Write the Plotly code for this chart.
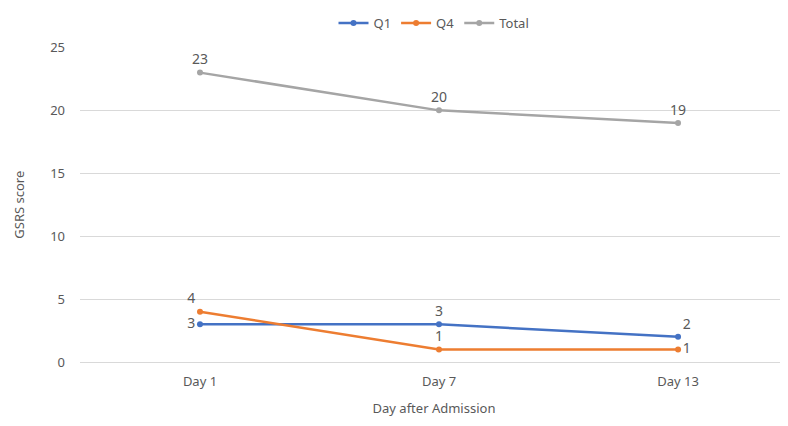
import plotly.graph_objects as go

days = ["Day 1", "Day 7", "Day 13"]
q1 = [3, 3, 2]
q4 = [4, 1, 1]
total = [23, 20, 19]

fnt = "Noto Sans, Open Sans, sans-serif"
txtc = "#595959"

fig = go.Figure()
fig.add_trace(go.Scatter(x=days, y=q1, name="Q1", mode="lines+markers+text",
                         line=dict(color="#4472C4", width=2.5), marker=dict(size=6),
                         text=[str(v) for v in q1],
                         textposition=["middle left", "top center", "top right"],
                         textfont=dict(size=14, color=txtc)))
fig.add_trace(go.Scatter(x=days, y=q4, name="Q4", mode="lines+markers+text",
                         line=dict(color="#ED7D31", width=2.5), marker=dict(size=6),
                         text=[str(v) for v in q4],
                         textposition=["top left", "top center", "middle right"],
                         textfont=dict(size=14, color=txtc)))
fig.add_trace(go.Scatter(x=days, y=total, name="Total", mode="lines+markers+text",
                         line=dict(color="#A5A5A5", width=2.5), marker=dict(size=6),
                         text=[str(v) for v in total],
                         textposition=["top center", "top center", "top center"],
                         textfont=dict(size=14, color=txtc)))

fig.update_layout(
    width=780, height=418,
    margin=dict(l=72, r=0, t=35, b=64),
    paper_bgcolor="white", plot_bgcolor="white",
    font=dict(family=fnt, size=13, color=txtc),
    legend=dict(orientation="h", x=0.5, xanchor="center", y=1.0, yanchor="top",
                yref="container", font=dict(size=13, color=txtc)),
    showlegend=True,
)
fig.update_xaxes(type="category", range=[-0.502, 2.46], showgrid=False,
                 showline=False, ticks="", ticklabelstandoff=10,
                 tickfont=dict(size=13, color=txtc),
                 title=dict(text="Day after Admission", font=dict(size=13, color=txtc), standoff=14))
fig.update_yaxes(range=[0, 25], dtick=5, showgrid=True, gridcolor="#D9D9D9", gridwidth=1,
                 zeroline=True, zerolinecolor="#D9D9D9", zerolinewidth=1,
                 showline=False, ticks="", ticklabelstandoff=14,
                 tickfont=dict(size=13, color=txtc),
                 title=dict(text="GSRS score", font=dict(size=13, color=txtc), standoff=22))

fig.write_html("out.html")
